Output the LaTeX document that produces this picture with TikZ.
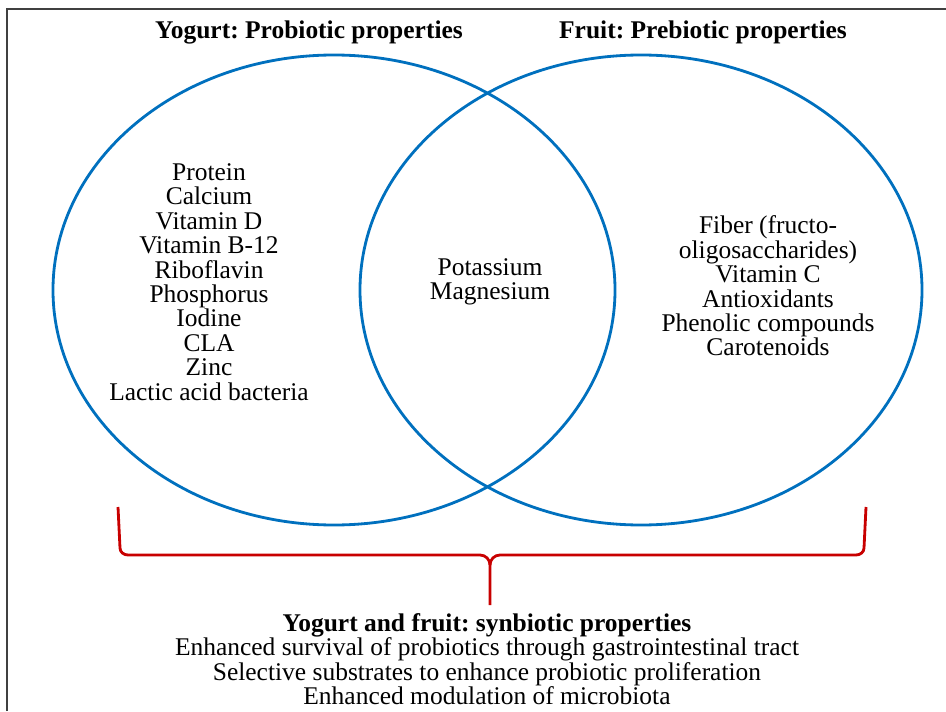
\documentclass[tikz,border=0pt]{standalone}
\usepackage{fontspec}
\setmainfont{Liberation Serif}
\frenchspacing
\definecolor{vennblue}{RGB}{0,112,190}
\definecolor{bracered}{RGB}{200,0,0}
\begin{document}
\begin{tikzpicture}[x=0.02cm, y=0.02cm,
    every node/.style={font=\fontsize{14.5}{13.9}\selectfont, align=center, inner sep=0pt},
    venn/.style={draw=vennblue, line width=1.6pt},
    brace/.style={draw=bracered, line width=1.6pt, line join=round}]
        \useasboundingbox (0,0) rectangle (946,711);
        \draw[line width=1.5pt, black!75] (7,0) -- (7,702) -- (946,702);

        \draw[venn] (334,421) ellipse [x radius=281, y radius=235];
        \draw[venn] (641,421) ellipse [x radius=281, y radius=235];

        \node[font=\fontsize{14.5}{13.9}\selectfont\bfseries] (yogurt) at (309,679) {Yogurt: Probiotic properties};
        \node[font=\fontsize{14.5}{13.9}\selectfont\bfseries] (fruit) at (703,679) {Fruit: Prebiotic properties};

        \node (ylist) at (209,429) {Protein\\Calcium\\Vitamin D\\Vitamin B-12\\Riboflavin\\Phosphorus\\Iodine\\CLA\\Zinc\\Lactic acid bacteria};
        \node (both) at (490,429) {Potassium\\Magnesium};
        \node (flist) at (768,425) {Fiber (fructo-\\oligosaccharides)\\Vitamin C\\Antioxidants\\Phenolic compounds\\Carotenoids};

        \node (synb) at (487,52) {\textbf{Yogurt and fruit: synbiotic properties}\\Enhanced survival of probiotics through gastrointestinal tract\\Selective substrates to enhance probiotic proliferation\\Enhanced modulation of microbiota};

        \coordinate (bl) at (118,204);
        \coordinate (br) at (866,204);
        \coordinate (tip) at (490,106);
        \draw[brace] (bl) -- (120,163) to[out=-90, in=180] (128,156) -- (480,156)
            to[out=0, in=90] (tip |- 0,146) -- (tip);
        \draw[brace] (br) -- (864,163) to[out=-90, in=0] (856,156) -- (500,156)
            to[out=180, in=90] (tip |- 0,146);
\end{tikzpicture}
\end{document}
